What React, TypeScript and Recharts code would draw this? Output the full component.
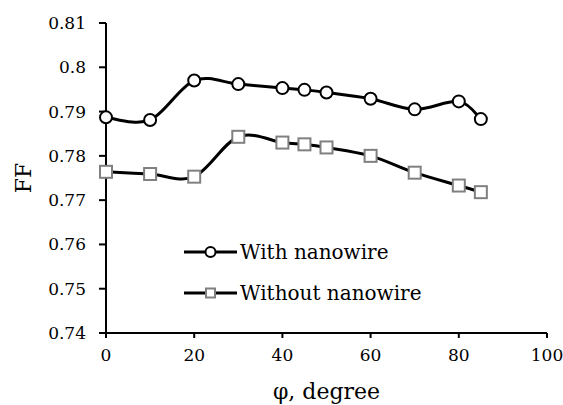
import React from 'react';
import { LineChart, Line, XAxis, YAxis, Label } from 'recharts';

const angles = [0, 10, 20, 30, 40, 45, 50, 60, 70, 80, 85];
const withNanowire = [0.7887, 0.7881, 0.797, 0.7962, 0.7953, 0.7949, 0.7943, 0.7929, 0.7905, 0.7923, 0.7883];
const withoutNanowire = [0.7764, 0.7759, 0.7753, 0.7843, 0.783, 0.7826, 0.7819, 0.78, 0.7762, 0.7733, 0.7718];
const xTicks = [0, 20, 40, 60, 80, 100];
const yTicks = [0.74, 0.75, 0.76, 0.77, 0.78, 0.79, 0.8, 0.81];
const seriesNames = ['With nanowire', 'Without nanowire'];

const data = angles.map((a, i) => ({ x: a, w: withNanowire[i], wo: withoutNanowire[i] }));

const FONT = '"DejaVu Serif", serif';

function catmullRom(context: any) {
  let pts: number[][] = [];
  return {
    areaStart() {},
    areaEnd() {},
    lineStart() { pts = []; },
    point(x: number, y: number) { pts.push([+x, +y]); },
    lineEnd() {
      const n = pts.length;
      if (!n) return;
      context.moveTo(pts[0][0], pts[0][1]);
      if (n === 1) return;
      const t = 1 / 6;
      for (let i = 0; i < n - 1; i++) {
        const p0 = pts[Math.max(i - 1, 0)];
        const p1 = pts[i];
        const p2 = pts[i + 1];
        const p3 = pts[Math.min(i + 2, n - 1)];
        context.bezierCurveTo(
          p1[0] + (p2[0] - p0[0]) * t, p1[1] + (p2[1] - p0[1]) * t,
          p2[0] - (p3[0] - p1[0]) * t, p2[1] - (p3[1] - p1[1]) * t,
          p2[0], p2[1]
        );
      }
    },
  };
}

const CircleDot = (props: any) => {
  const { cx, cy, index } = props;
  return <circle key={'c' + index} cx={cx} cy={cy} r={6} fill="#fff" stroke="#000" strokeWidth={2} />;
};
const SquareDot = (props: any) => {
  const { cx, cy, index } = props;
  return <rect key={'s' + index} x={cx - 6} y={cy - 6} width={12} height={12} fill="#fff" stroke="#808080" strokeWidth={2} />;
};

const LegendBox = () => (
  <svg width={260} height={80} style={{ position: 'absolute', left: 184, top: 232, overflow: 'visible' }}>
    <g>
      <line x1={0} y1={20} x2={53} y2={20} stroke="#000" strokeWidth={3} />
      <circle cx={26.5} cy={20} r={5} fill="#fff" stroke="#000" strokeWidth={2} />
      <text x={56} y={27} fontFamily={FONT} fontSize={20} fill="#000">{seriesNames[0]}</text>
    </g>
    <g>
      <line x1={0} y1={61} x2={53} y2={61} stroke="#000" strokeWidth={3} />
      <rect x={22} y={56.5} width={9} height={9} fill="#fff" stroke="#808080" strokeWidth={2} />
      <text x={56} y={68} fontFamily={FONT} fontSize={20} fill="#000">{seriesNames[1]}</text>
    </g>
  </svg>
);

const fmt = (v: number) => String(+v.toFixed(2));

export default function App() {
  return (
    <div style={{ position: 'absolute', left: 0, top: 0, width: 563, height: 405, background: '#fff' }}>
      <LineChart width={563} height={405} data={data} margin={{ top: 23, right: 16, left: 0, bottom: 0 }}>
        <XAxis
          dataKey="x"
          type="number"
          domain={[0, 100]}
          ticks={xTicks}
          height={72}
          tickSize={5}
          tickMargin={11}
          stroke="#000"
          strokeWidth={2}
          tick={{ fill: '#000', fontFamily: FONT, fontSize: 17 }}
        >
          <Label value="φ, degree" position="insideBottom" offset={6} style={{ fontFamily: FONT, fontSize: 22, fill: '#000' }} />
        </XAxis>
        <YAxis
          type="number"
          domain={[0.74, 0.81]}
          ticks={yTicks}
          width={106}
          tickSize={7}
          tickMargin={13}
          stroke="#000"
          strokeWidth={2}
          tickFormatter={fmt}
          tick={{ fill: '#000', fontFamily: FONT, fontSize: 17 }}
          allowDataOverflow
        >
          <Label
            content={(p: any) => {
              const vb = p.viewBox || {};
              const cx = 31;
              const cy = (vb.y || 0) + (vb.height || 0) / 2;
              return (
                <text x={cx} y={cy} transform={`rotate(-90, ${cx}, ${cy})`} textAnchor="middle" fontFamily={FONT} fontSize={22} fill="#000">FF</text>
              );
            }}
          />
        </YAxis>
        <Line dataKey="w" name={seriesNames[0]} type={catmullRom as any} stroke="#000" strokeWidth={3} dot={CircleDot} isAnimationActive={false} />
        <Line dataKey="wo" name={seriesNames[1]} type={catmullRom as any} stroke="#000" strokeWidth={3} dot={SquareDot} isAnimationActive={false} />
      </LineChart>
      <LegendBox />
    </div>
  );
}
